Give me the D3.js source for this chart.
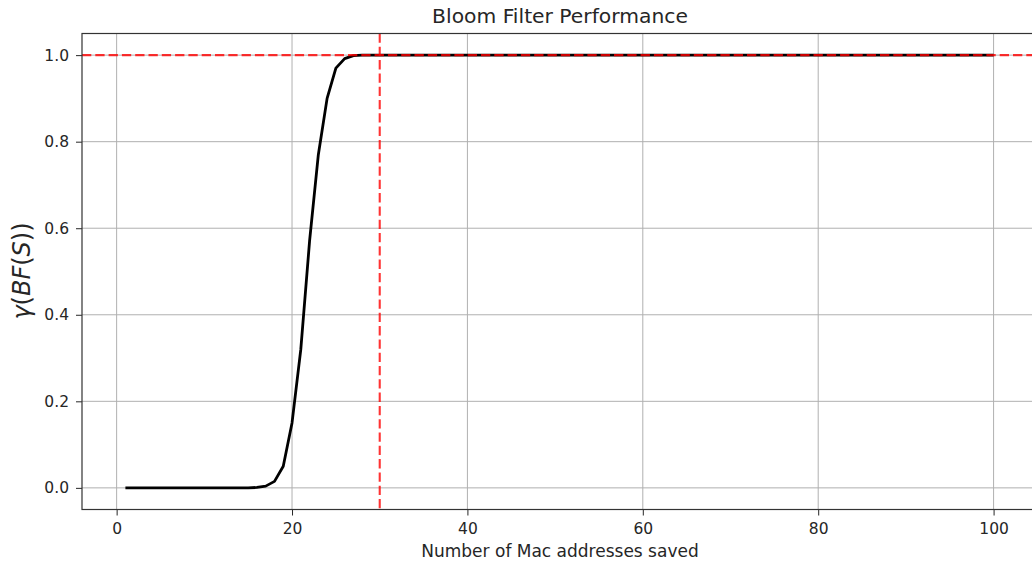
<!DOCTYPE html>
<html>
<head>
<meta charset="utf-8">
<script src="https://cdn.jsdelivr.net/npm/d3@7"></script>
<style>
  html, body { margin: 0; padding: 0; background: #fff; }
  svg { display: block; font-family: "DejaVu Sans", sans-serif; }
</style>
</head>
<body>
<svg id="chart" width="1032" height="566"></svg>
<script>
// Number of MAC addresses stored in the filter
const macCounts = [
  1, 2, 3, 4, 5, 6, 7, 8, 9, 10,
  11, 12, 13, 14, 15, 16, 17, 18, 19, 20,
  21, 22, 23, 24, 25, 26, 27, 28, 29, 30,
  31, 32, 33, 34, 35, 36, 37, 38, 39, 40,
  41, 42, 43, 44, 45, 46, 47, 48, 49, 50,
  51, 52, 53, 54, 55, 56, 57, 58, 59, 60,
  61, 62, 63, 64, 65, 66, 67, 68, 69, 70,
  71, 72, 73, 74, 75, 76, 77, 78, 79, 80,
  81, 82, 83, 84, 85, 86, 87, 88, 89, 90,
  91, 92, 93, 94, 95, 96, 97, 98, 99, 100
];
// gamma(BF(S)) for each count
const gammaValues = [
  0, 0, 0, 0, 0, 0, 0, 0, 0, 0,
  0, 0, 0, 0, 0, 0.001, 0.004, 0.015, 0.05, 0.15,
  0.32, 0.57, 0.77, 0.90, 0.97, 0.992, 0.999, 1, 1, 1,
  1, 1, 1, 1, 1, 1, 1, 1, 1, 1,
  1, 1, 1, 1, 1, 1, 1, 1, 1, 1,
  1, 1, 1, 1, 1, 1, 1, 1, 1, 1,
  1, 1, 1, 1, 1, 1, 1, 1, 1, 1,
  1, 1, 1, 1, 1, 1, 1, 1, 1, 1,
  1, 1, 1, 1, 1, 1, 1, 1, 1, 1,
  1, 1, 1, 1, 1, 1, 1, 1, 1, 1
];
const xTicks = [0, 20, 40, 60, 80, 100];
const yTicks = [0.0, 0.2, 0.4, 0.6, 0.8, 1.0];
const thresholdX = 30;
const thresholdY = 1.0;

const svg = d3.select("#chart");
const plotLeft = 82, plotRight = 1037, plotTop = 33.5, plotBottom = 509.5;

const x = d3.scaleLinear().domain([-3.95, 104.95]).range([plotLeft, plotRight]);
const y = d3.scaleLinear().domain([-0.05, 1.05]).range([plotBottom, plotTop]);

const gridColor = "#b0b0b0";
const textColor = "#262626";

// grid
svg.append("g").selectAll("line").data(xTicks).join("line")
  .attr("x1", d => x(d)).attr("x2", d => x(d))
  .attr("y1", plotTop).attr("y2", plotBottom)
  .attr("stroke", gridColor).attr("stroke-width", 1);
svg.append("g").selectAll("line").data(yTicks).join("line")
  .attr("x1", plotLeft).attr("x2", plotRight)
  .attr("y1", d => y(d)).attr("y2", d => y(d))
  .attr("stroke", gridColor).attr("stroke-width", 1);

// curve
const line = d3.line()
  .x((d, i) => x(macCounts[i]))
  .y(d => y(d));
svg.append("path")
  .datum(gammaValues)
  .attr("d", line)
  .attr("fill", "none")
  .attr("stroke", "#000")
  .attr("stroke-width", 2.8)
  .attr("stroke-linejoin", "round");

// threshold lines
const red = "rgba(255,0,0,0.8)";
svg.append("line")
  .attr("x1", plotLeft).attr("x2", plotRight)
  .attr("y1", y(thresholdY)).attr("y2", y(thresholdY))
  .attr("stroke", red).attr("stroke-width", 2.1)
  .attr("stroke-dasharray", "9.3,4");
svg.append("line")
  .attr("x1", x(thresholdX)).attr("x2", x(thresholdX))
  .attr("y1", plotTop).attr("y2", plotBottom)
  .attr("stroke", red).attr("stroke-width", 2.1)
  .attr("stroke-dasharray", "9.3,4");

// axes
const xAxis = d3.axisBottom(x).tickValues(xTicks).tickSize(6).tickPadding(7.5).tickFormat(d3.format("d"));
const yAxis = d3.axisLeft(y).tickValues(yTicks).tickSize(6).tickPadding(7).tickFormat(d3.format(".1f"));

const gx = svg.append("g").attr("transform", `translate(0,${plotBottom})`).call(xAxis);
const gy = svg.append("g").attr("transform", `translate(${plotLeft},0)`).call(yAxis);
[gx, gy].forEach(g => {
  g.select(".domain").remove();
  g.selectAll(".tick line").attr("stroke", textColor).attr("stroke-width", 1);
  g.selectAll(".tick text").attr("fill", textColor)
    .style("font-family", "DejaVu Sans").style("font-size", "15.5px");
});

// spines
svg.append("rect")
  .attr("x", plotLeft).attr("y", plotTop)
  .attr("width", plotRight - plotLeft).attr("height", plotBottom - plotTop)
  .attr("fill", "none").attr("stroke", "#333").attr("stroke-width", 1.2);

// labels
svg.append("text")
  .attr("x", 560).attr("y", 23)
  .attr("text-anchor", "middle").attr("fill", textColor)
  .style("font-size", "20.3px")
  .text("Bloom Filter Performance");

svg.append("text")
  .attr("x", 560).attr("y", 557)
  .attr("text-anchor", "middle").attr("fill", textColor)
  .style("font-size", "17px")
  .text("Number of Mac addresses saved");

const yl = svg.append("text")
  .attr("transform", `translate(30,271) rotate(-90)`)
  .attr("text-anchor", "middle").attr("fill", textColor)
  .style("font-size", "24px");
yl.append("tspan").style("font-style", "italic").text("γ");
yl.append("tspan").text("(");
yl.append("tspan").style("font-style", "italic").text("BF");
yl.append("tspan").text("(");
yl.append("tspan").style("font-style", "italic").text("S");
yl.append("tspan").text("))");
</script>
</body>
</html>
